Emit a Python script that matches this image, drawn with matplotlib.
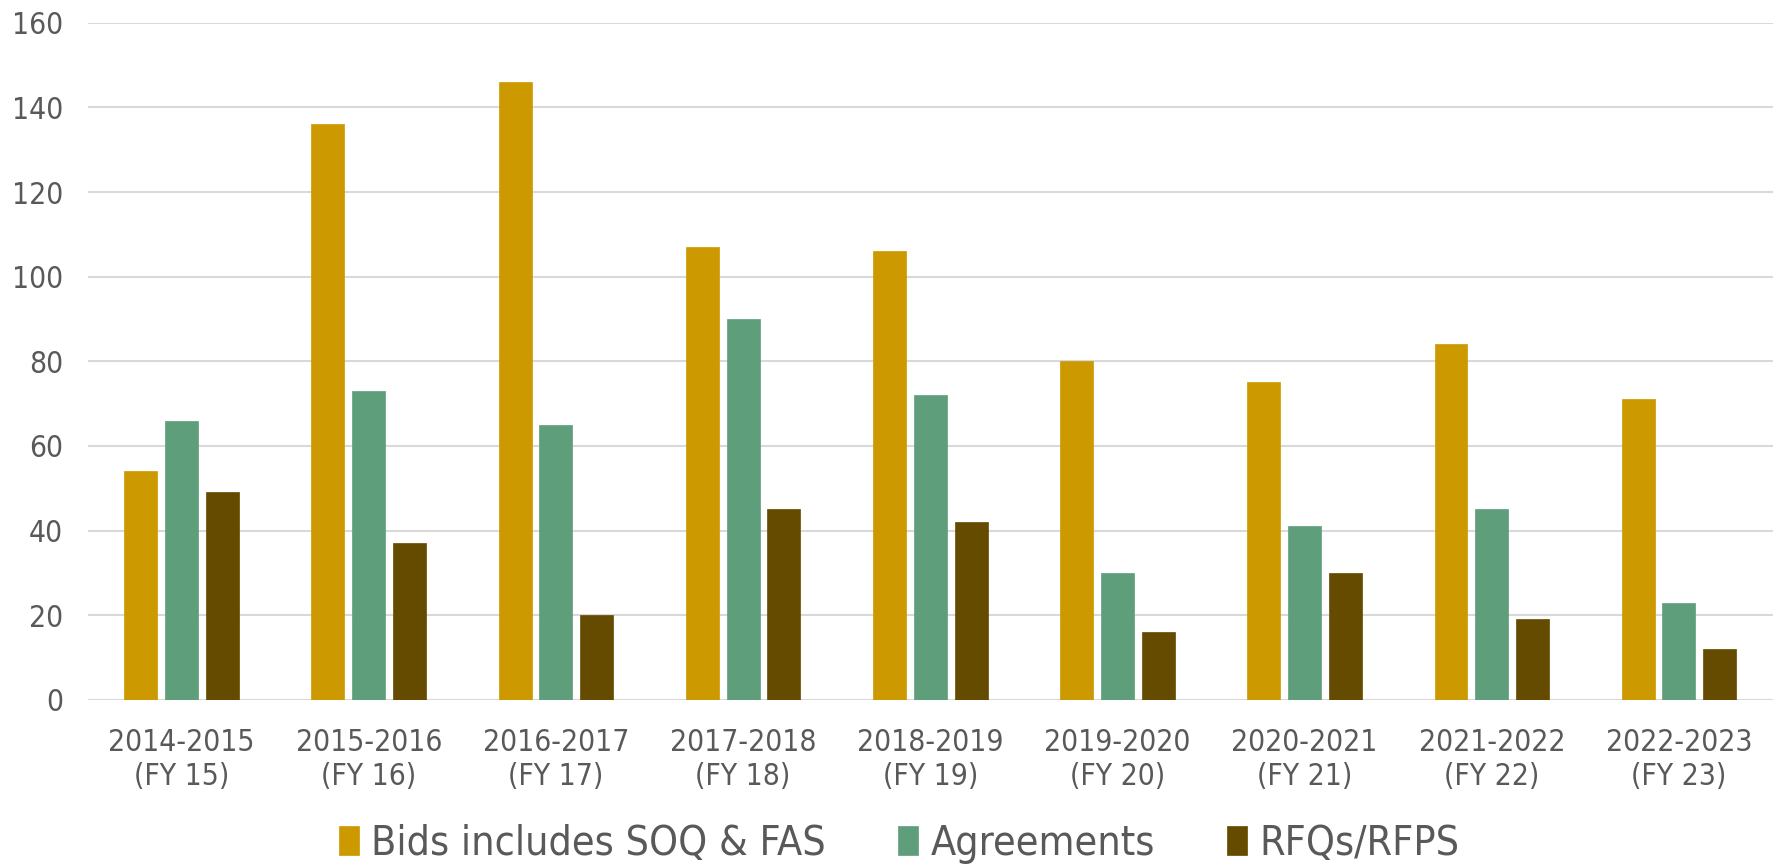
import matplotlib
matplotlib.use("Agg")
import matplotlib.pyplot as plt
import numpy as np

categories = ["2014-2015\n(FY 15)", "2015-2016\n(FY 16)", "2016-2017\n(FY 17)",
              "2017-2018\n(FY 18)", "2018-2019\n(FY 19)", "2019-2020\n(FY 20)",
              "2020-2021\n(FY 21)", "2021-2022\n(FY 22)", "2022-2023\n(FY 23)"]
bids = [54, 136, 146, 107, 106, 80, 75, 84, 71]
agreements = [66, 73, 65, 90, 72, 30, 41, 45, 23]
rfqs = [49, 37, 20, 45, 42, 16, 30, 19, 12]
series_names = ["Bids includes SOQ & FAS", "Agreements", "RFQs/RFPS"]
colors = ["#CC9900", "#5F9E7B", "#644B00"]
yticks = [0, 20, 40, 60, 80, 100, 120, 140, 160]

plt.rcParams['font.family'] = ['DejaVu Sans']
plt.rcParams['font.stretch'] = 'condensed'

fig = plt.figure(figsize=(17.77, 8.64), dpi=100)
ax = fig.add_axes([0.0495, 0.19, 0.948, 0.7837])

x = np.arange(len(categories))
bw = 0.176
step = 0.218
for i, (vals, name, c) in enumerate(zip([bids, agreements, rfqs], series_names, colors)):
    ax.bar(x + (i - 1) * step, vals, width=bw, color=c, label=name, zorder=3,
           edgecolor=c, linewidth=0.5)

ax.set_xlim(-0.5, len(categories) - 0.5)
ax.set_ylim(0, 160)
ax.set_yticks(yticks)
ax.set_xticks(x)
ax.set_xticklabels(categories, linespacing=1.22)
ax.grid(axis='y', color='#D9D9D9', linewidth=1.5, zorder=0)
for s in ax.spines.values():
    s.set_visible(False)
ax.tick_params(axis='both', length=0, labelsize=21.5, colors='#595959')
ax.tick_params(axis='y', pad=18)
ax.tick_params(axis='x', pad=20)

leg = fig.legend(loc='center', bbox_to_anchor=(0.506, 0.023), ncol=3, frameon=False,
                 fontsize=29.5, handlelength=0.5, handleheight=0.7, handletextpad=0.3,
                 columnspacing=1.75, labelcolor='#595959')

fig.savefig("out.png", dpi=100)
